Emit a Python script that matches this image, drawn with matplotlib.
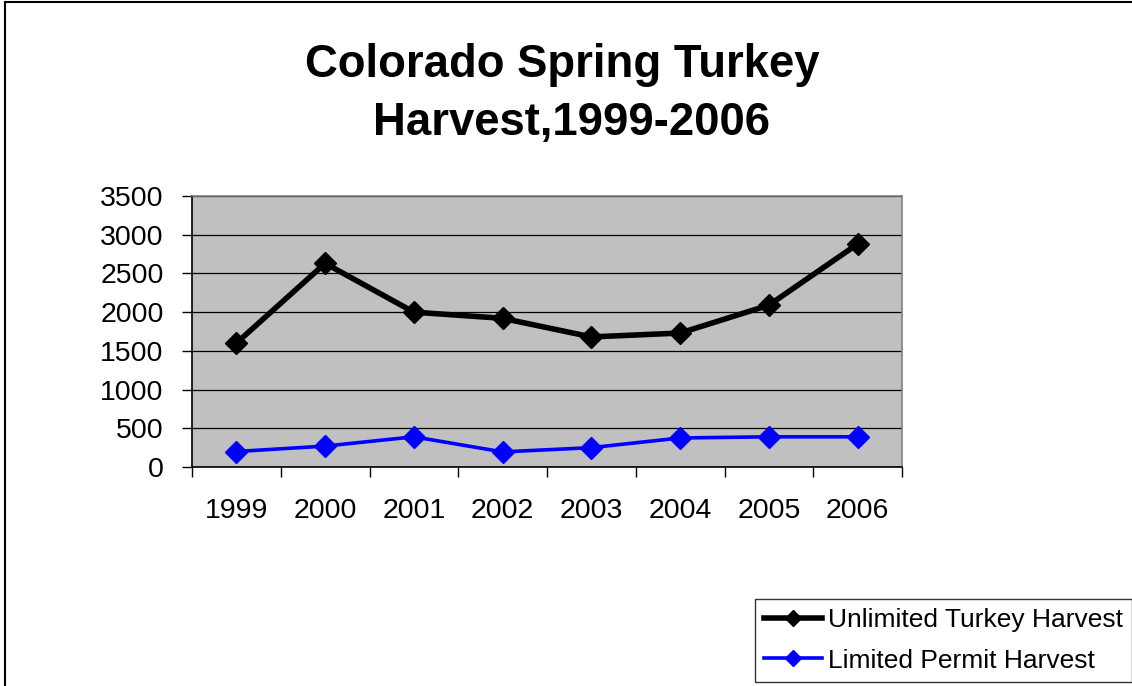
import matplotlib.pyplot as plt
from matplotlib.patches import Rectangle
from matplotlib.ticker import FixedLocator, MultipleLocator
import numpy as np

# ---------------------------------------------------------------------------
# Data
# ---------------------------------------------------------------------------
years = ["1999", "2000", "2001", "2002", "2003", "2004", "2005", "2006"]
unlimited = [1600, 2630, 2000, 1920, 1680, 1730, 2090, 2880]
limited = [200, 270, 390, 195, 250, 375, 390, 390]

TITLE_LINES = ["Colorado Spring Turkey", "Harvest,1999-2006"]

plt.rcParams.update({
    "font.family": ["Liberation Sans", "DejaVu Sans"],
})

W, H = 1132, 686
fig = plt.figure(figsize=(W / 100, H / 100), dpi=100)
fig.patch.set_facecolor("white")

# outer chart border (only top and left visible in the reference)
fig.patches.append(Rectangle((5 / W, -0.05), 1.2, 1 - 2 / H + 0.05,
                             transform=fig.transFigure, fill=False,
                             edgecolor="black", linewidth=1.5, zorder=0))

ax = fig.add_axes([192 / W, 1 - 467 / H, 710 / W, 271 / H])
ax.set_facecolor("#C0C0C0")

x = np.arange(len(years))
ax.plot(x, unlimited, color="black", linewidth=4.0, marker="D",
        markersize=11, label="Unlimited Turkey Harvest", zorder=4,
        clip_on=False)
ax.plot(x, limited, color="#0000FF", linewidth=2.6, marker="D",
        markersize=11, label="Limited Permit Harvest", zorder=4,
        clip_on=False)

ax.set_xlim(-0.5, len(years) - 0.5)
ax.set_ylim(0, 3500)
ax.yaxis.set_major_locator(MultipleLocator(500))
ax.yaxis.grid(True, color="black", linewidth=0.9, zorder=1)
ax.set_axisbelow(True)

ax.set_xticks(x)
ax.set_xticklabels(years, fontsize=20.5)
ax.xaxis.set_minor_locator(FixedLocator(np.arange(-0.5, len(years), 1.0)))
ax.tick_params(axis="x", which="major", length=0, pad=22)
ax.tick_params(axis="x", which="minor", length=7.5, width=1, color="black")
ax.tick_params(axis="y", which="major", length=7.5, width=1, pad=13,
               labelsize=20.5)

for side in ("top", "right"):
    ax.spines[side].set_color("#808080")
    ax.spines[side].set_linewidth(1.2)
for side in ("left", "bottom"):
    ax.spines[side].set_color("black")
    ax.spines[side].set_linewidth(1.2)

# title, two lines (second line sits slightly right of the first)
fig.text(562 / W, 1 - 77 / H, TITLE_LINES[0], ha="center", va="baseline",
         fontsize=32.8, fontweight="bold")
fig.text(571 / W, 1 - 135 / H, TITLE_LINES[1], ha="center", va="baseline",
         fontsize=32.8, fontweight="bold")

leg = fig.legend(loc="upper left", bbox_to_anchor=(755 / W, 1 - 599 / H),
                 fontsize=19, frameon=True, fancybox=False,
                 borderpad=0.35, handlelength=2.2, handletextpad=0.2,
                 labelspacing=0.62, borderaxespad=0)
leg.get_frame().set_edgecolor("black")
leg.get_frame().set_linewidth(1.0)
for h in leg.legend_handles:
    h.set_markersize(8)

fig.savefig("out.png", dpi=100)
